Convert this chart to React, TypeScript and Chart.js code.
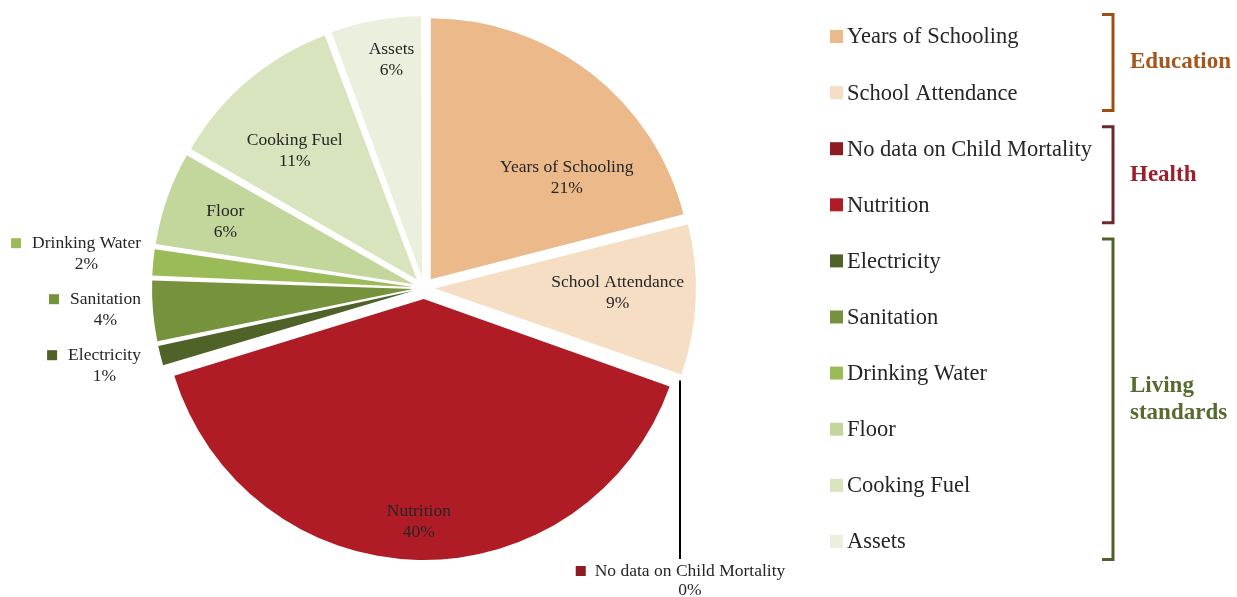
import React, { useEffect, useRef } from "react";
import { Chart, registerables } from "chart.js";

Chart.register(...registerables);

// ---- data ----
const categories = [
  "Years of Schooling",
  "School Attendance",
  "No data on Child Mortality",
  "Nutrition",
  "Electricity",
  "Sanitation",
  "Drinking Water",
  "Floor",
  "Cooking Fuel",
  "Assets",
];
const shares = [21.0, 9.4, 0, 39.9, 1.4, 3.9, 1.8, 5.9, 11.0, 5.7];
const sliceColors = [
  "#ECB98A",
  "#F6DEC5",
  "#8E1A22",
  "#B01C25",
  "#4F6228",
  "#76923C",
  "#9BBB59",
  "#C3D69B",
  "#D7E4BD",
  "#EAF0DD",
];
const groupNames = [["Education"], ["Health"], ["Living", "standards"]];
const groupFirst = [0, 2, 4];
const groupLast = [1, 3, 9];
const groupTextColors = ["#A5561C", "#9C1F2B", "#566B2E"];
const groupBracketColors = ["#9E4E12", "#6B2A2E", "#4F6228"];

// ---- layout (label placement inside slices: fraction along slice, fraction of radius) ----
const labelAnchor = [
  [0.705, 0.65],
  [0.47, 0.7],
  [0.5, 0.5],
  [0.5, 0.855],
  [0.5, 0.5],
  [0.5, 0.5],
  [0.5, 0.5],
  [0.455, 0.76],
  [0.42, 0.68],
  [0.61, 0.84],
];

const W = 1237;
const H = 597;
const FONT = '"Liberation Serif", "Times New Roman", serif';
const TEXT = "#262626";
const SLICE_FONT = `17.5px ${FONT}`;
const LEGEND_FONT = `22.5px ${FONT}`;
const GROUP_FONT = `bold 23px ${FONT}`;

const overlay = {
  id: "overlay",
  beforeDatasetsDraw(chart: any) {
    const meta = chart.getDatasetMeta(0);
    const ctrl: any = meta.controller;
    meta.data.forEach((arc: any) => {
      const t = (arc.options.offset || 0) / 4;
      const fix = 1 - Math.sin(Math.min(Math.PI, arc.circumference || 0));
      arc.outerRadius = ctrl.outerRadius - t * fix;
    });
  },
  afterDraw(chart: any) {
    const ctx: CanvasRenderingContext2D = chart.ctx;
    const meta = chart.getDatasetMeta(0);
    const R: number = meta.controller.outerRadius;
    const geo = meta.data.map((arc: any) => {
      const mid = (arc.startAngle + arc.endAngle) / 2;
      const t = (arc.options.offset || 0) / 4;
      const ax = arc.x + Math.cos(mid) * t;
      const ay = arc.y + Math.sin(mid) * t;
      return {
        ax,
        ay,
        start: arc.startAngle,
        end: arc.endAngle,
        mid,
        ex: ax + Math.cos(mid) * R,
        ey: ay + Math.sin(mid) * R,
      };
    });

    ctx.save();
    ctx.textBaseline = "middle";
    ctx.fillStyle = TEXT;

    // inside labels
    ctx.font = SLICE_FONT;
    ctx.textAlign = "center";
    shares.forEach((v, i) => {
      if (v < 5) return;
      const g = geo[i];
      const ang = g.start + (g.end - g.start) * labelAnchor[i][0];
      const r = R * labelAnchor[i][1];
      const x = g.ax + Math.cos(ang) * r;
      const y = g.ay + Math.sin(ang) * r;
      ctx.fillStyle = TEXT;
      ctx.fillText(categories[i], x, y - 10.5);
      ctx.fillText(`${Math.round(v)}%`, x, y + 10.5);
    });

    // outside labels for small slices
    const small = shares
      .map((v, i) => ({ v, i }))
      .filter((d) => d.v > 0 && d.v < 5)
      .map((d) => ({ ...d, x: geo[d.i].ex, y: geo[d.i].ey }))
      .sort((a, b) => a.y - b.y);
    if (small.length) {
      const gap = 56;
      const meanY = small.reduce((s, d) => s + d.y, 0) / small.length;
      const right = Math.min(...small.map((d) => d.x)) - 12;
      small.forEach((d, k) => {
        const cy = meanY + (k - (small.length - 1) / 2) * gap;
        ctx.font = SLICE_FONT;
        const tw = ctx.measureText(categories[d.i]).width;
        const tcx = right - tw / 2;
        ctx.fillStyle = sliceColors[d.i];
        ctx.fillRect(right - tw - 21, cy - 10.5 - 5, 10, 10);
        ctx.fillStyle = TEXT;
        ctx.textAlign = "center";
        ctx.fillText(categories[d.i], tcx, cy - 10.5);
        ctx.fillText(`${Math.round(d.v)}%`, tcx, cy + 10.5);
      });
    }

    // zero-value slices: leader line down to a label under the pie
    shares.forEach((v, i) => {
      if (v !== 0) return;
      const g = geo[i];
      const lineEnd = H - 38;
      ctx.strokeStyle = "#000000";
      ctx.lineWidth = 2;
      ctx.beginPath();
      ctx.moveTo(Math.round(g.ex), g.ey + 2);
      ctx.lineTo(Math.round(g.ex), lineEnd);
      ctx.stroke();
      ctx.font = SLICE_FONT;
      const tw = ctx.measureText(categories[i]).width;
      const blockW = tw + 19;
      const left = g.ex - blockW / 2;
      const y1 = H - 26;
      ctx.fillStyle = sliceColors[i];
      ctx.fillRect(left, y1 - 5, 10, 10);
      ctx.fillStyle = TEXT;
      ctx.textAlign = "center";
      ctx.fillText(categories[i], left + 19 + tw / 2, y1);
      ctx.fillText(`${Math.round(v)}%`, left + 19 + tw / 2, y1 + 19);
    });

    // legend
    const legX = 830;
    const legY0 = 36.5;
    const legStep = 56.1;
    const itemY = (i: number) => legY0 + i * legStep;
    ctx.font = LEGEND_FONT;
    ctx.textAlign = "left";
    categories.forEach((c, i) => {
      const y = itemY(i);
      ctx.fillStyle = sliceColors[i];
      ctx.fillRect(legX, y - 6.5, 13, 13);
      ctx.fillStyle = TEXT;
      ctx.fillText(c, legX + 17, y + 1);
    });

    // group brackets
    const bx = 1113;
    const tick = 11;
    groupNames.forEach((names, gi) => {
      const top = itemY(groupFirst[gi]) - 22;
      const bot = itemY(groupLast[gi]) + 18;
      ctx.strokeStyle = groupBracketColors[gi];
      ctx.lineWidth = 3;
      ctx.lineJoin = "miter";
      ctx.beginPath();
      ctx.moveTo(bx - tick, top);
      ctx.lineTo(bx, top);
      ctx.lineTo(bx, bot);
      ctx.lineTo(bx - tick, bot);
      ctx.stroke();
      ctx.font = GROUP_FONT;
      ctx.fillStyle = groupTextColors[gi];
      ctx.textAlign = "left";
      const mid = (top + bot) / 2;
      const lh = 27;
      names.forEach((n, k) => {
        ctx.fillText(n, bx + 17, mid + (k - (names.length - 1) / 2) * lh);
      });
    });

    ctx.restore();
  },
};

export default function App() {
  const ref = useRef<HTMLCanvasElement | null>(null);
  useEffect(() => {
    if (!ref.current) return;
    const chart = new Chart(ref.current, {
      type: "pie",
      data: {
        labels: categories,
        datasets: [
          {
            data: shares,
            backgroundColor: sliceColors,
            borderWidth: 0,
            offset: 44,
          },
        ],
      },
      options: {
        responsive: false,
        animation: false,
        devicePixelRatio: 1,
        layout: { padding: { left: 141, right: 530, top: 5, bottom: 26 } },
        plugins: {
          legend: { display: false },
          tooltip: { enabled: false },
        },
      },
      plugins: [overlay],
    } as any);
    return () => chart.destroy();
  }, []);
  return (
    <div style={{ position: "absolute", left: 0, top: 0, width: W, height: H, background: "#ffffff" }}>
      <canvas ref={ref} width={W} height={H} style={{ display: "block" }} />
    </div>
  );
}
